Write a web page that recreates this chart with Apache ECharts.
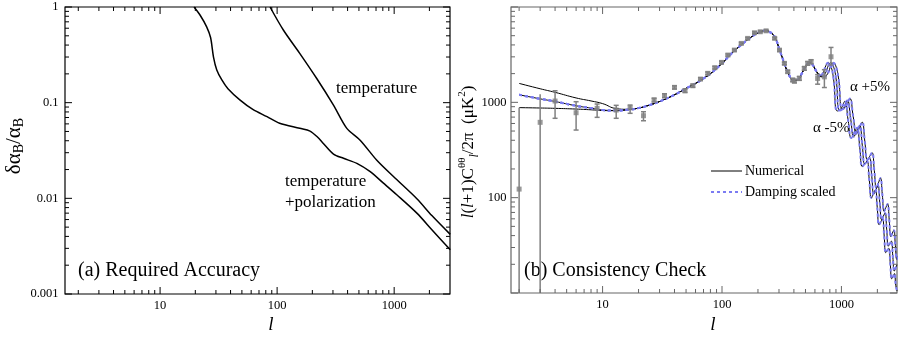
<!DOCTYPE html>
<html>
<head>
<meta charset="utf-8">
<script src="https://cdn.jsdelivr.net/npm/echarts@6/dist/echarts.min.js"></script>
<style>
html,body{margin:0;padding:0;background:#fff;}
#chart{width:900px;height:339px;}
</style>
</head>
<body>
<div id="chart"></div>
<script>
// ---- panel (a): required accuracy ----
const accTempL = [87, 113, 156, 218, 303, 394, 512, 711, 986, 1563, 2100, 3014];
const accTempV = [1, 0.575, 0.328, 0.179, 0.0944, 0.0539, 0.0405, 0.025, 0.0169, 0.0099, 0.0066, 0.0042];
const accPolL = [19.5, 22, 25, 27, 28.6, 30.5, 33.7, 38, 48, 62, 82, 105, 156, 191, 220, 247, 303, 369, 480, 620, 805, 1052, 1563, 2100, 3014];
const accPolV = [1, 0.82, 0.62, 0.48, 0.30, 0.22, 0.173, 0.14, 0.107, 0.085, 0.0714, 0.061, 0.0539, 0.0505, 0.044, 0.0377, 0.029, 0.0262, 0.0232, 0.0191, 0.0145, 0.0109, 0.0070, 0.0047, 0.0029];

// ---- panel (b): consistency check ----
const lowL   = [2, 3, 4, 6, 8, 10, 13, 16];
const lowTop = [1580, 1388, 1273, 1112, 1034, 970, 860, 845];
const lowMid = [1200, 1088, 1020, 920, 870, 830, 820, 835];
const lowBot = [880, 872, 865, 850, 835, 820, 818, 835];

const midL = [20, 25, 30, 40, 50, 60, 70, 80, 100, 120, 150, 180, 200, 230, 260, 280, 300, 330, 360, 400, 430, 470, 510, 540, 570, 620];
const midC = [870, 940, 1020, 1200, 1400, 1580, 1780, 2000, 2560, 3250, 4150, 4950, 5350, 5650, 5300, 4700, 3700, 2650, 2000, 1690, 1720, 2050, 2450, 2600, 2500, 2100];

// central model, alpha +5% and alpha -5% at high l
const hiL0 = [680, 730, 780, 810, 850, 900, 970, 1045, 1120, 1195, 1270, 1345, 1420, 1495, 1570, 1645, 1720, 1795, 1870, 1945, 2020, 2095, 2170, 2245, 2320, 2395, 2470, 2545, 2620, 2695, 2770, 2845, 2920];
const hiC0 = [1850, 2000, 2450, 2600, 2450, 1800, 820, 880, 1045, 670, 436, 500, 568, 355, 225, 243, 260, 168, 108.5, 121, 134, 89, 59, 64, 69, 46, 31, 33, 35, 24, 17, 18.3, 19.8];
const hiLp = [714, 767, 819, 851, 893, 945, 1019, 1097, 1176, 1255, 1334, 1412, 1491, 1570, 1649, 1727, 1806, 1885, 1964, 2042, 2121, 2200, 2279, 2357, 2436, 2515, 2594, 2672, 2751, 2830, 2909, 2987];
const hiCp = [1850, 2000, 2450, 2600, 2450, 1800, 845, 915, 1097, 710, 466, 540, 619, 390, 250, 272, 296, 193, 126, 143, 161, 108, 72, 79, 86, 58, 39, 42.6, 45.5, 31.4, 22.6, 24.5];
const hiLm = [648, 695, 743, 771, 810, 857, 924, 995, 1067, 1138, 1210, 1281, 1352, 1424, 1495, 1567, 1638, 1710, 1781, 1852, 1924, 1995, 2067, 2138, 2210, 2281, 2352, 2424, 2495, 2567, 2638, 2710, 2781, 2852, 2924];
const hiCm = [1850, 2000, 2450, 2600, 2450, 1800, 812, 862, 1024, 650, 423, 480, 542, 337, 212, 227, 242, 155, 99, 110, 121, 79, 52, 56, 60, 39.6, 26.5, 28, 29.4, 20, 14.1, 15, 16, 12, 10.5];

const obsL  = [2, 3, 4, 6, 9, 13, 17, 22, 27, 33, 40, 49, 57, 66, 76, 87, 99, 112, 127, 145, 164, 187, 209, 234, 276, 303, 333, 355, 391, 404, 444, 489, 522, 557, 632, 720, 818];
const obsC  = [123, 617, 1032, 778, 865, 830, 878, 724, 1057, 1173, 1436, 1323, 1493, 1754, 2014, 2307, 2624, 3133, 3532, 4150, 4684, 5370, 5500, 5625, 4690, 3530, 2563, 2095, 1715, 1672, 1782, 2270, 2563, 2670, 1780, 1850, 3006];
const obsLo = [10, 10, 680, 512, 696, 680, 767, 641, 1010, 1120, 1380, 1270, 1440, 1700, 1950, 2240, 2550, 3050, 3440, 4050, 4580, 5250, 5380, 5500, 4580, 3440, 2490, 2030, 1650, 1600, 1700, 2170, 2450, 2540, 1550, 1430, 2458];
const obsHi = [880, 1213, 1323, 1015, 960, 930, 937, 797, 1105, 1230, 1490, 1380, 1550, 1810, 2080, 2380, 2700, 3220, 3620, 4250, 4790, 5490, 5620, 5750, 4800, 3620, 2640, 2160, 1780, 1745, 1870, 2370, 2680, 2800, 1950, 2200, 3766];

const xTicksMajor = [10, 100, 1000];
const yTicksA = [0.001, 0.01, 0.1, 1];
const yTicksB = [10, 100, 1000, 10000];
const yLabelsB = [100, 1000];

const extA = {x: [1.54, 3000], y: [0.001, 1]};
const extB = {x: [1.71, 2920], y: [10, 10000]};

const FONT = "'Liberation Serif', 'DejaVu Serif', serif";

function zip(xs, ys) { return xs.map((x, i) => [x, ys[i]]); }
function isPow10(v) { const e = Math.log10(v); return Math.abs(e - Math.round(e)) < 1e-6; }
function minorTicks(ext) {
  const out = [];
  for (let k = -4; k <= 4; k++) {
    for (let m = 2; m <= 9; m++) {
      const v = m * Math.pow(10, k);
      if (v > ext[0] && v < ext[1]) out.push(v);
    }
  }
  return out;
}

// inward ticks on all four sides, drawn through the axis scales
function tickSeries(idx, ext, xMaj, yMaj, color) {
  const data = [];
  xMaj.forEach(v => data.push([v, ext.y[0], 0, 1]));
  minorTicks(ext.x).forEach(v => data.push([v, ext.y[0], 0, 0]));
  yMaj.forEach(v => data.push([ext.x[0], v, 1, 1]));
  minorTicks(ext.y).forEach(v => data.push([ext.x[0], v, 1, 0]));
  return {
    type: 'custom', xAxisIndex: idx, yAxisIndex: idx, silent: true, clip: false, z: 6,
    data: data,
    renderItem: function (params, api) {
      const kind = api.value(2), len = api.value(3) ? 7 : 4;
      const style = {stroke: color, lineWidth: 1};
      let a, b;
      if (kind === 0) {
        a = api.coord([api.value(0), ext.y[0]]);
        b = api.coord([api.value(0), ext.y[1]]);
        return {type: 'group', children: [
          {type: 'line', shape: {x1: a[0], y1: a[1], x2: a[0], y2: a[1] - len}, style: style},
          {type: 'line', shape: {x1: b[0], y1: b[1], x2: b[0], y2: b[1] + len}, style: style}
        ]};
      }
      a = api.coord([ext.x[0], api.value(1)]);
      b = api.coord([ext.x[1], api.value(1)]);
      return {type: 'group', children: [
        {type: 'line', shape: {x1: a[0], y1: a[1], x2: a[0] + len, y2: a[1]}, style: style},
        {type: 'line', shape: {x1: b[0], y1: b[1], x2: b[0] - len, y2: b[1]}, style: style}
      ]};
    }
  };
}

function logAxis(idx, ext, fmt, margin) {
  return {
    type: 'log', logBase: 10, gridIndex: idx, min: ext[0], max: ext[1],
    axisLine: {show: false}, axisTick: {show: false}, splitLine: {show: false},
    axisLabel: {fontFamily: FONT, fontSize: 12.5, color: '#000', margin: margin, formatter: fmt}
  };
}

const xFmt = v => isPow10(v) && v >= 10 ? String(Math.round(v)) : '';
const yFmtA = v => isPow10(v) ? String(Number(v.toPrecision(3))) : '';
const yFmtB = v => yLabelsB.some(t => Math.abs(t - v) < 1e-6 * t) ? String(Math.round(v)) : '';

const numStyle = {color: '#000', width: 1};
const dampStyle = {color: '#7b7bf2', width: 2, type: [3, 3]};

function line(name, data, style, idx, z, smooth) {
  return {type: 'line', name: name, xAxisIndex: idx, yAxisIndex: idx, data: data,
    showSymbol: false, symbol: 'none', smooth: smooth, lineStyle: style, itemStyle: {color: style.color}, z: z, silent: true};
}

const mid = zip(midL, midC);
const curveC0 = zip(lowL, lowMid).concat(mid, zip(hiL0, hiC0));
const curveCp = zip(lowL, lowTop).concat(mid, zip(hiLp, hiCp));
const curveCm = zip(lowL, lowBot).concat(mid, zip(hiLm, hiCm));
const curveDp = zip(lowL, lowMid).concat(mid, zip(hiLp, hiCp));
const curveDm = zip(lowL, lowMid).concat(mid, zip(hiLm, hiCm));

const txt = (x, y, s, size, extra) => Object.assign({
  type: 'text', x: x, y: y, silent: true,
  style: {text: s, font: size + 'px ' + FONT, fill: '#000', verticalAlign: 'middle'}
}, extra || {});

const chart = echarts.init(document.getElementById('chart'));
chart.setOption({
  animation: false,
  backgroundColor: '#fff',
  grid: [
    {left: 65, right: 450, top: 7, bottom: 45, show: true, borderColor: '#000', borderWidth: 1.2, backgroundColor: 'transparent'},
    {left: 511, right: 2, top: 7, bottom: 46, show: true, borderColor: '#666', borderWidth: 1.2, backgroundColor: 'transparent'}
  ],
  xAxis: [logAxis(0, extA.x, xFmt, 5), logAxis(1, extB.x, xFmt, 5)],
  yAxis: [logAxis(0, extA.y, yFmtA, 6.5), logAxis(1, extB.y, yFmtB, 4.5)],
  legend: {
    data: [{name: 'Numerical', lineStyle: {width: 1}}, {name: 'Damping scaled'}],
    orient: 'vertical', left: 710, top: 164,
    itemWidth: 31, itemHeight: 10, itemGap: 7, padding: 0, selectedMode: false,
    itemStyle: {opacity: 0},
    textStyle: {fontFamily: FONT, fontSize: 14, color: '#000', padding: [0, 0, 0, -2]}
  },
  series: [
    line('temperature', zip(accTempL, accTempV), {color: '#000', width: 1.5}, 0, 3, 0.3),
    line('temperature+polarization', zip(accPolL, accPolV), {color: '#000', width: 1.5}, 0, 3, 0.3),
    line('Numerical', curveC0, numStyle, 1, 3, 0.5),
    line('Numerical', curveCp, numStyle, 1, 3, 0.5),
    line('Numerical', curveCm, numStyle, 1, 3, 0.5),
    line('Damping scaled', curveC0, dampStyle, 1, 4, 0.5),
    line('Damping scaled', curveDp, dampStyle, 1, 4, 0.5),
    line('Damping scaled', curveDm, dampStyle, 1, 4, 0.5),
    {
      type: 'custom', name: 'errors', xAxisIndex: 1, yAxisIndex: 1, z: 5, silent: true, clip: true,
      data: obsL.map((l, i) => [l, obsLo[i], obsHi[i]]),
      renderItem: function (params, api) {
        const lo = api.value(1);
        const top = api.coord([api.value(0), api.value(2)]);
        const bot = api.coord([api.value(0), lo]);
        const st = {stroke: '#808080', lineWidth: 1.5};
        const ch = [{type: 'line', shape: {x1: top[0], y1: top[1], x2: bot[0], y2: bot[1]}, style: st}];
        if (lo > 10) {
          ch.push({type: 'line', shape: {x1: top[0] - 2.5, y1: top[1], x2: top[0] + 2.5, y2: top[1]}, style: st});
          ch.push({type: 'line', shape: {x1: bot[0] - 2.5, y1: bot[1], x2: bot[0] + 2.5, y2: bot[1]}, style: st});
        }
        return {type: 'group', children: ch};
      }
    },
    {
      type: 'scatter', name: 'data', xAxisIndex: 1, yAxisIndex: 1, z: 5, silent: true,
      data: zip(obsL, obsC), symbol: 'rect', symbolSize: 5, itemStyle: {color: '#808080'}
    },
    tickSeries(0, extA, xTicksMajor, yTicksA, '#000'),
    tickSeries(1, extB, xTicksMajor, yTicksB, '#666')
  ],
  graphic: [
    txt(336, 89, 'temperature', 17),
    txt(285, 182, 'temperature', 17),
    txt(285, 203, '+polarization', 17),
    txt(78, 271, '(a) Required Accuracy', 20),
    txt(524, 271, '(b) Consistency Check', 20),
    txt(850, 87, 'α +5%', 15),
    txt(813, 128, 'α -5%', 15),
    txt(271, 325, 'l', 19, {style: {text: 'l', font: 'italic 19px ' + FONT, fill: '#000', align: 'center', verticalAlign: 'middle'}}),
    txt(713, 325, 'l', 19, {style: {text: 'l', font: 'italic 19px ' + FONT, fill: '#000', align: 'center', verticalAlign: 'middle'}}),
    {
      type: 'text', x: 14, y: 146, rotation: Math.PI / 2, silent: true,
      style: {
        text: '{m|δα}{s|B}{m|/α}{s|B}', align: 'center', verticalAlign: 'middle',
        rich: {
          m: {fontFamily: FONT, fontSize: 21, lineHeight: 24, fill: '#000', verticalAlign: 'middle'},
          s: {fontFamily: FONT, fontSize: 14, lineHeight: 14, fill: '#000', verticalAlign: 'bottom'}
        }
      }
    },
    {
      type: 'text', x: 469, y: 152, rotation: Math.PI / 2, silent: true,
      style: {
        text: '{i|l}{m|(}{i|l}{m|+1)C}{sup|θθ}{subi|l}{m|/2π  (μK}{sup|2}{m|)}', align: 'center', verticalAlign: 'middle',
        rich: {
          m: {fontFamily: FONT, fontSize: 17, lineHeight: 24, fill: '#000', verticalAlign: 'middle'},
          i: {fontFamily: FONT, fontSize: 17, fontStyle: 'italic', lineHeight: 24, fill: '#000', verticalAlign: 'middle'},
          sup: {fontFamily: FONT, fontSize: 11, lineHeight: 12, fill: '#000', verticalAlign: 'top'},
          subi: {fontFamily: FONT, fontSize: 12, fontStyle: 'italic', lineHeight: 12, fill: '#000', verticalAlign: 'bottom'}
        }
      }
    }
  ]
});
</script>
</body>
</html>
